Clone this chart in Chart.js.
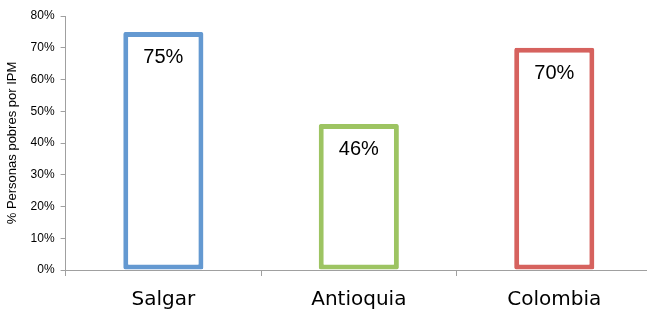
<!DOCTYPE html>
<html>
<head>
<meta charset="utf-8">
<script src="https://cdn.jsdelivr.net/npm/chart.js@4/dist/chart.umd.min.js"></script>
<style>
  html, body { margin: 0; padding: 0; background: #fff; overflow: hidden; }
  #wrap { width: 652px; height: 309px; overflow: hidden; }
</style>
</head>
<body>
<div id="wrap"><canvas id="barChart" width="652" height="324"></canvas></div>
<script>
var categories = ['Salgar', 'Antioquia', 'Colombia'];
var values = [75, 46, 70];
var barColors = ['#6499D1', '#9DC462', '#D6625E'];
var yTicks = [0, 10, 20, 30, 40, 50, 60, 70, 80];

// dibuja el porcentaje dentro de cada barra, cerca del borde superior
var valueLabels = {
  id: 'valueLabels',
  afterDatasetsDraw: function(chart) {
    var ctx = chart.ctx;
    var meta = chart.getDatasetMeta(0);
    ctx.save();
    ctx.font = '20px "Liberation Sans", sans-serif';
    ctx.fillStyle = '#000';
    ctx.textAlign = 'center';
    ctx.textBaseline = 'middle';
    meta.data.forEach(function(bar, i) {
      ctx.fillText(values[i] + '%', bar.x, bar.y + 26);
    });
    ctx.restore();
  }
};

function printChart(outputId, labels, data) {
  var ctx = document.getElementById(outputId);
  new Chart(ctx, {
    type: 'bar',
    data: {
      labels: labels,
      datasets: [{
        data: data,
        backgroundColor: '#ffffff',
        borderColor: barColors,
        borderWidth: 5,
        borderSkipped: false,
        borderRadius: 2,
        categoryPercentage: 1,
        barPercentage: 0.41
      }]
    },
    options: {
      responsive: false,
      animation: false,
      layout: { padding: { top: 16, right: 0, bottom: 0, left: 5 } },
      plugins: { legend: { display: false }, tooltip: { enabled: false } },
      scales: {
        x: {
          grid: { display: true, drawOnChartArea: false, drawTicks: true, tickLength: 6, color: '#a0a0a0', offset: true },
          border: { color: '#a0a0a0' },
          ticks: { color: '#000', padding: 12, font: { family: '"DejaVu Sans", sans-serif', size: 20 } }
        },
        y: {
          min: 0,
          max: 80,
          afterBuildTicks: function(axis) {
            axis.ticks = yTicks.map(function(v) { return { value: v }; });
          },
          grid: { display: true, drawOnChartArea: false, drawTicks: true, tickLength: 5, color: '#a0a0a0' },
          border: { color: '#a0a0a0' },
          ticks: {
            color: '#000',
            padding: 6,
            font: { family: '"Liberation Sans", sans-serif', size: 12 },
            callback: function(v) { return v + '%'; }
          },
          title: {
            display: true,
            text: '% Personas pobres por IPM',
            color: '#000',
            padding: { top: 0, bottom: 4 },
            font: { family: '"Liberation Sans", sans-serif', size: 13 }
          }
        }
      }
    },
    plugins: [valueLabels]
  });
}

printChart('barChart', categories, values);
</script>
</body>
</html>
